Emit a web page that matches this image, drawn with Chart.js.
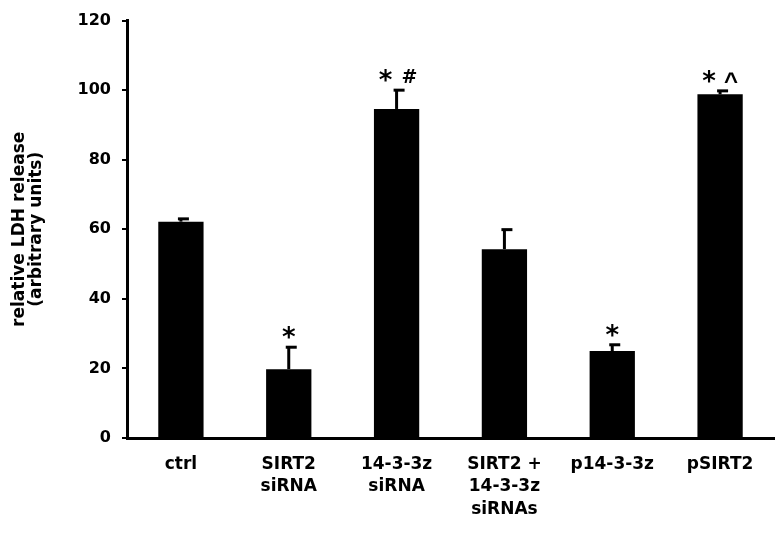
<!DOCTYPE html>
<html>
<head>
<meta charset="utf-8">
<script src="https://cdn.jsdelivr.net/npm/chart.js@4/dist/chart.umd.min.js"></script>
<style>
	html, body { margin: 0; padding: 0; background: #fff; }
	#wrap { width: 777px; height: 548px; }
</style>
</head>
<body>
<div id="wrap"><canvas id="chart" width="777" height="548"></canvas></div>
<script>
const categories = [["ctrl"], ["SIRT2", "siRNA"], ["14-3-3z", "siRNA"], ["SIRT2 +", "14-3-3z", "siRNAs"], ["p14-3-3z"], ["pSIRT2"]];
const ldhValues = [62.2, 19.8, 94.6, 54.3, 25.0, 98.8];
const ldhErrors = [0.8, 6.3, 5.4, 5.6, 1.8, 1.0];
const starMarks = [false, true, true, false, true, true];
const extraMarks = ["", "", "#", "", "", "^"];
const yTicks = [0, 20, 40, 60, 80, 100, 120];

const FONT = "'DejaVu Sans', 'Liberation Sans', sans-serif";

const errorBars = {
	id: "errorBars",
	afterDatasetsDraw(chart) {
		const ctx = chart.ctx;
		const meta = chart.getDatasetMeta(0);
		const y = chart.scales.y;
		ctx.save();
		ctx.strokeStyle = "#000";
		ctx.fillStyle = "#000";
		meta.data.forEach((bar, i) => {
			const top = y.getPixelForValue(ldhValues[i]);
			const cap = y.getPixelForValue(ldhValues[i] + ldhErrors[i]);
			ctx.lineWidth = 3;
			ctx.beginPath();
			ctx.moveTo(bar.x, top);
			ctx.lineTo(bar.x, cap);
			ctx.stroke();
			ctx.beginPath();
			ctx.moveTo(bar.x - 3, cap);
			ctx.lineTo(bar.x + 8, cap);
			ctx.stroke();

			// significance marks above the cap
			const extra = extraMarks[i];
			const starX = extra ? bar.x - 11 : bar.x;
			ctx.textAlign = "center";
			ctx.textBaseline = "alphabetic";
			if (starMarks[i]) {
				ctx.font = "bold 26px " + FONT;
				ctx.fillText("*", starX, cap - 1);
			}
			if (extra === "#") {
				ctx.font = "bold 19px " + FONT;
				ctx.fillText(extra, bar.x + 13, cap - 7);
			} else if (extra) {
				ctx.font = "bold 24px 'Liberation Sans', sans-serif";
				ctx.fillText(extra, bar.x + 11, cap - 2);
			}
		});
		ctx.restore();
	},
};

new Chart(document.getElementById("chart"), {
	type: "bar",
	data: {
		labels: categories,
		datasets: [
			{
				data: ldhValues,
				backgroundColor: "#000",
				borderWidth: 0,
				categoryPercentage: 1,
				barPercentage: 0.42,
			},
		],
	},
	options: {
		responsive: false,
		animation: false,
		layout: { padding: { top: 14, right: 3, bottom: 0, left: 0 } },
		plugins: { legend: { display: false }, tooltip: { enabled: false } },
		scales: {
			x: {
				grid: { drawOnChartArea: false, drawTicks: false },
				border: { color: "#000", width: 3 },
				ticks: {
					color: "#000",
					font: { family: FONT, size: 17, weight: "bold", lineHeight: 1.33 },
					padding: 15,
					maxRotation: 0,
					autoSkip: false,
				},
				afterFit(scale) {
					scale.height = 110;
				},
			},
			y: {
				min: 0,
				max: 120,
				afterBuildTicks(scale) {
					scale.ticks = yTicks.map((v) => ({ value: v }));
				},
				grid: { drawOnChartArea: false, drawTicks: true, tickLength: 5, color: "#000", lineWidth: 2 },
				border: { color: "#000", width: 3 },
				ticks: {
					color: "#000",
					font: { family: FONT, size: 16, weight: "bold" },
					padding: 11,
				},
				title: {
					display: true,
					text: ["relative LDH release", "(arbitrary units)"],
					color: "#000",
					font: { family: FONT, size: 17, weight: "bold", lineHeight: 0.95 },
					padding: { top: 12, bottom: 10 },
				},
				afterFit(scale) {
					scale.width = 127;
				},
			},
		},
	},
	plugins: [errorBars],
});
</script>
</body>
</html>
